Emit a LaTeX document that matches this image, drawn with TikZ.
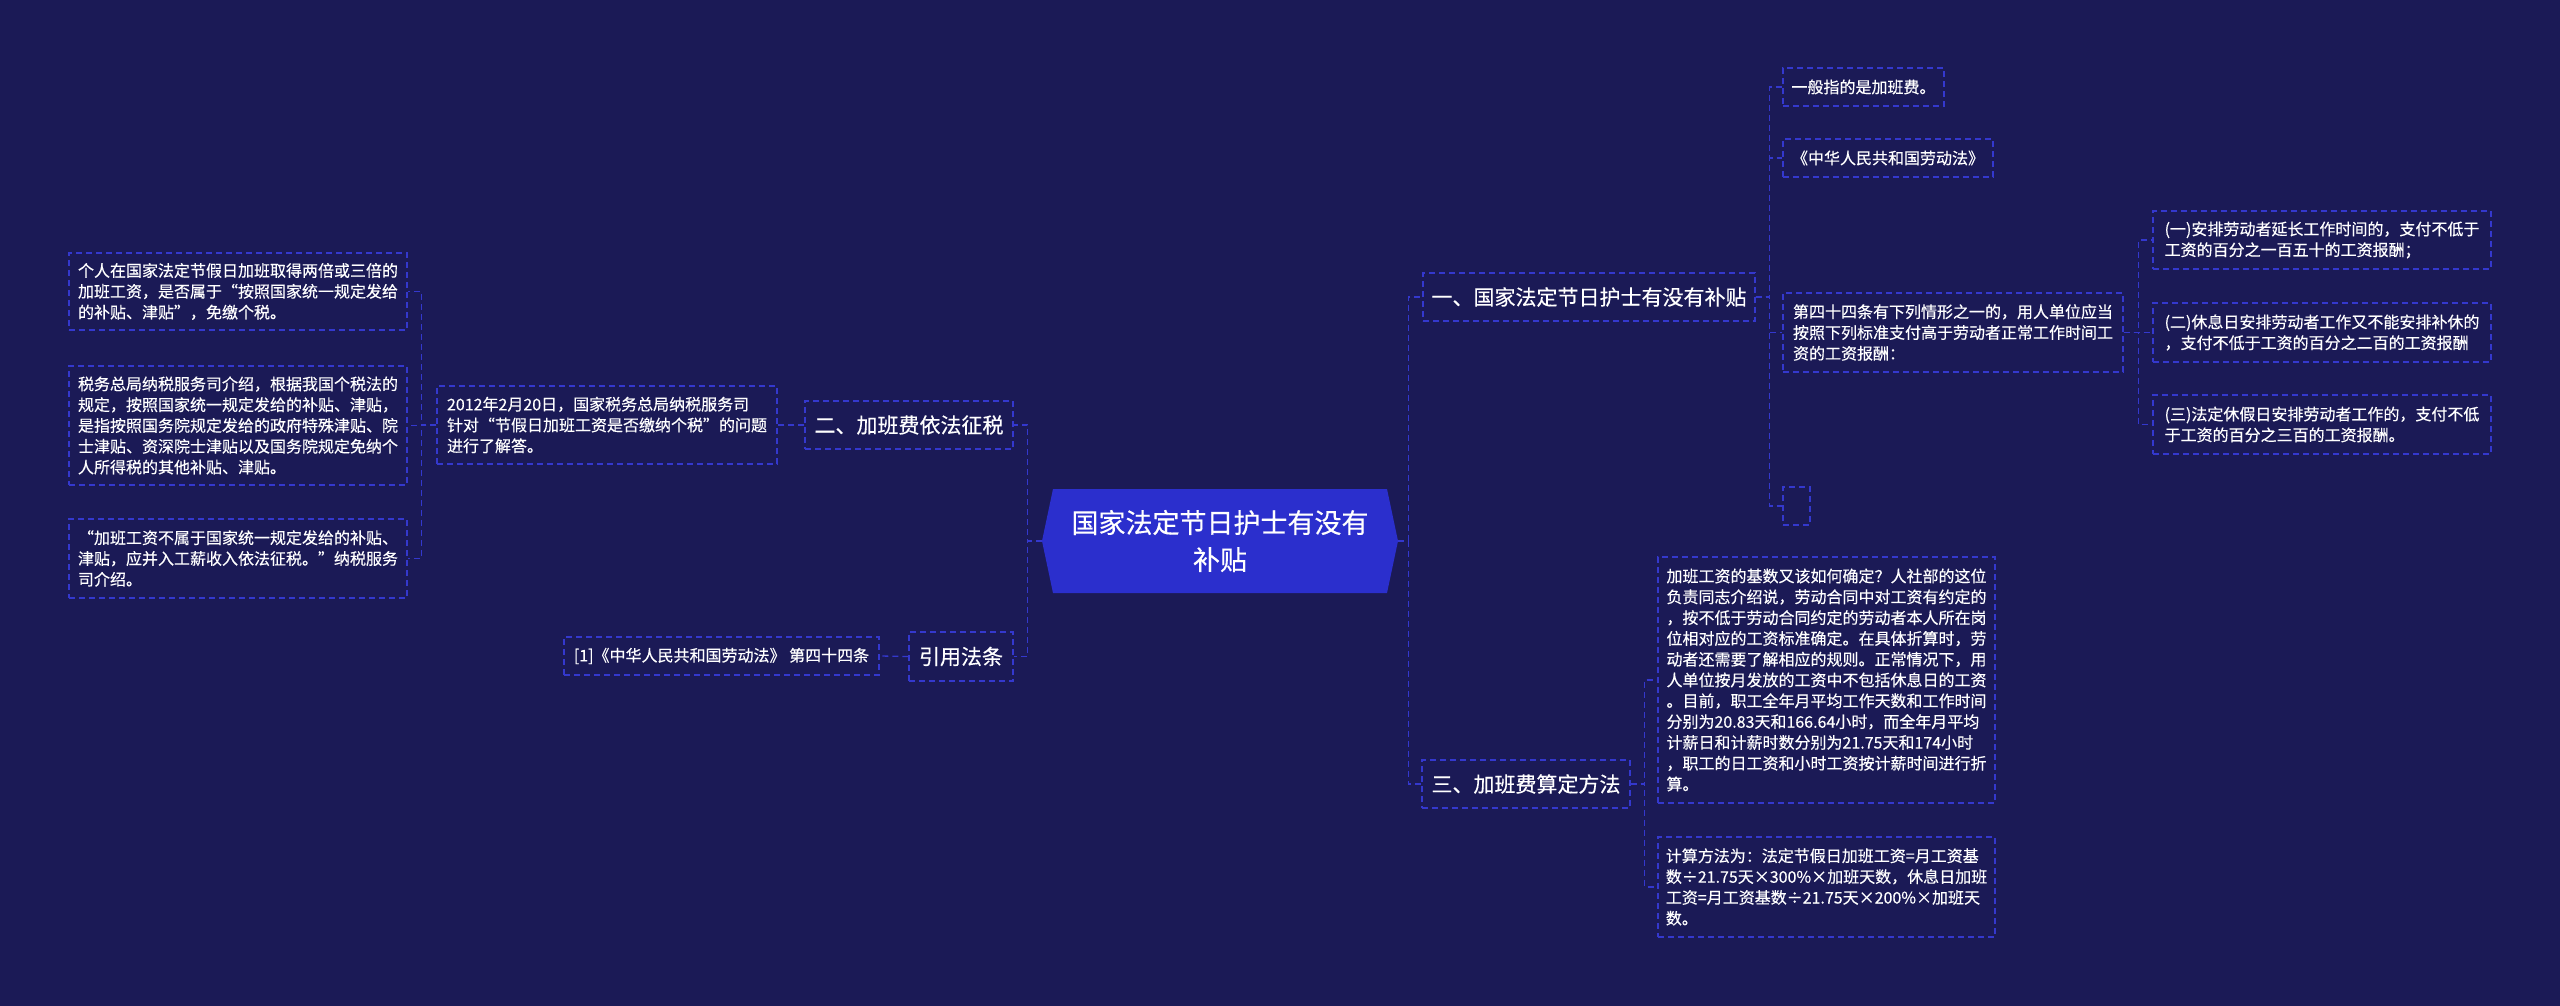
\documentclass[tikz,border=0pt]{standalone}
\usepackage{fontspec}
\setmainfont{Noto Sans CJK SC}[FakeBold=0.35]
\definecolor{bgc}{RGB}{27,26,86}
\definecolor{hexc}{RGB}{43,47,205}
\definecolor{linec}{RGB}{52,56,205}
\tikzset{
  box/.style={draw=linec, line width=1.3pt, dash pattern=on 6pt off 4pt, text=white, align=left, inner sep=0pt, font=\fontsize{16}{20.8}\selectfont},
  lvone/.style={box, font=\fontsize{21}{26}\selectfont, minimum height=48pt},
  conn/.style={draw=linec, line width=1.3pt, dash pattern=on 6pt off 4pt},
}
\begin{document}
\begin{tikzpicture}[x=1pt,y=-1pt]
\useasboundingbox (0,0) rectangle (2560,1006);
\fill[bgc] (0,0) rectangle (2560,1006);

% center
\fill[hexc] (1042,541) -- (1053,489) -- (1387,489) -- (1398,541) -- (1387,593) -- (1053,593) -- cycle;
\node[text=white, align=center, inner sep=0pt, minimum width=356pt, minimum height=104pt, font=\fontsize{27}{37}\selectfont] (c) at (1220,541) {国家法定节日护士有没有\\补贴};

% left side
\node[lvone, minimum width=208pt] (b2) at (909,425) {二、加班费依法征税};
\node[lvone, minimum width=104pt, minimum height=49pt] (b4) at (961,656.5) {引用法条};
\node[box, minimum width=340pt, minimum height=78pt] (t2012) at (607,425) {2012年2月20日，国家税务总局纳税服务司\\针对“节假日加班工资是否缴纳个税”的问题\\进行了解答。};
\node[box, minimum width=338pt, minimum height=77pt] (l1) at (238,291.5) {个人在国家法定节假日加班取得两倍或三倍的\\加班工资，是否属于“按照国家统一规定发给\\的补贴、津贴”，免缴个税。};
\node[box, minimum width=338pt, minimum height=119pt] (l2) at (238,425.5) {税务总局纳税服务司介绍，根据我国个税法的\\规定，按照国家统一规定发给的补贴、津贴，\\是指按照国务院规定发给的政府特殊津贴、院\\士津贴、资深院士津贴以及国务院规定免纳个\\人所得税的其他补贴、津贴。};
\node[box, minimum width=338pt, minimum height=79pt] (l3) at (238,558.5) {“加班工资不属于国家统一规定发给的补贴、\\津贴，应并入工薪收入依法征税。”纳税服务\\司介绍。};
\node[box, minimum width=315pt, minimum height=38pt] (ref) at (721.5,656) {[1]《中华人民共和国劳动法》 第四十四条};

% right side
\node[lvone, minimum width=332pt] (b1) at (1589,297) {一、国家法定节日护士有没有补贴};
\node[lvone, minimum width=208pt] (b3) at (1526,784) {三、加班费算定方法};
\node[box, minimum width=161pt, minimum height=38pt] (r1) at (1863.5,87) {一般指的是加班费。};
\node[box, minimum width=210pt, minimum height=38pt] (r2) at (1888,158) {《中华人民共和国劳动法》};
\node[box, minimum width=340pt, minimum height=79pt] (r3) at (1953,332.5) {第四十四条有下列情形之一的，用人单位应当\\按照下列标准支付高于劳动者正常工作时间工\\资的工资报酬：};
\node[box, minimum width=27pt, minimum height=38pt] (r4) at (1796.5,506) {};
\node[box, minimum width=338pt, minimum height=58pt] (s1) at (2322,240) {(一)安排劳动者延长工作时间的，支付不低于\\工资的百分之一百五十的工资报酬；};
\node[box, minimum width=338pt, minimum height=59pt] (s2) at (2322,332.5) {(二)休息日安排劳动者工作又不能安排补休的\\，支付不低于工资的百分之二百的工资报酬};
\node[box, minimum width=338pt, minimum height=59pt] (s3) at (2322,424.5) {(三)法定休假日安排劳动者工作的，支付不低\\于工资的百分之三百的工资报酬。};
\node[box, minimum width=337pt, minimum height=246pt] (m1) at (1826.5,680) {加班工资的基数又该如何确定？人社部的这位\\负责同志介绍说，劳动合同中对工资有约定的\\，按不低于劳动合同约定的劳动者本人所在岗\\位相对应的工资标准确定。在具体折算时，劳\\动者还需要了解相应的规则。正常情况下，用\\人单位按月发放的工资中不包括休息日的工资\\。目前，职工全年月平均工作天数和工作时间\\分别为20.83天和166.64小时，而全年月平均\\计薪日和计薪时数分别为21.75天和174小时\\，职工的日工资和小时工资按计薪时间进行折\\算。};
\node[box, minimum width=337pt, minimum height=100pt] (m2) at (1826.5,887) {计算方法为：法定节假日加班工资=月工资基\\数÷21.75天×300\%×加班天数，休息日加班\\工资=月工资基数÷21.75天×200\%×加班天\\数。};

% connectors
\foreach \ch in {b2,b4} \draw[conn] (c.west) -- ++(-14,0) |- (\ch.east);
\draw[conn] (b2.west) -- (t2012.east);
\draw[conn] (b4.west) -- (ref.east);
\foreach \ch in {l1,l2,l3} \draw[conn] (t2012.west) -- ++(-15,0) |- (\ch.east);
\foreach \ch in {b1,b3} \draw[conn] (c.east) -- ++(10,0) |- (\ch.west);
\foreach \ch in {r1,r2,r3,r4} \draw[conn] (b1.east) -- ++(14,0) |- (\ch.west);
\foreach \ch in {s1,s2,s3} \draw[conn] (r3.east) -- ++(15,0) |- (\ch.west);
\foreach \ch in {m1,m2} \draw[conn] (b3.east) -- ++(14,0) |- (\ch.west);
\end{tikzpicture}
\end{document}
